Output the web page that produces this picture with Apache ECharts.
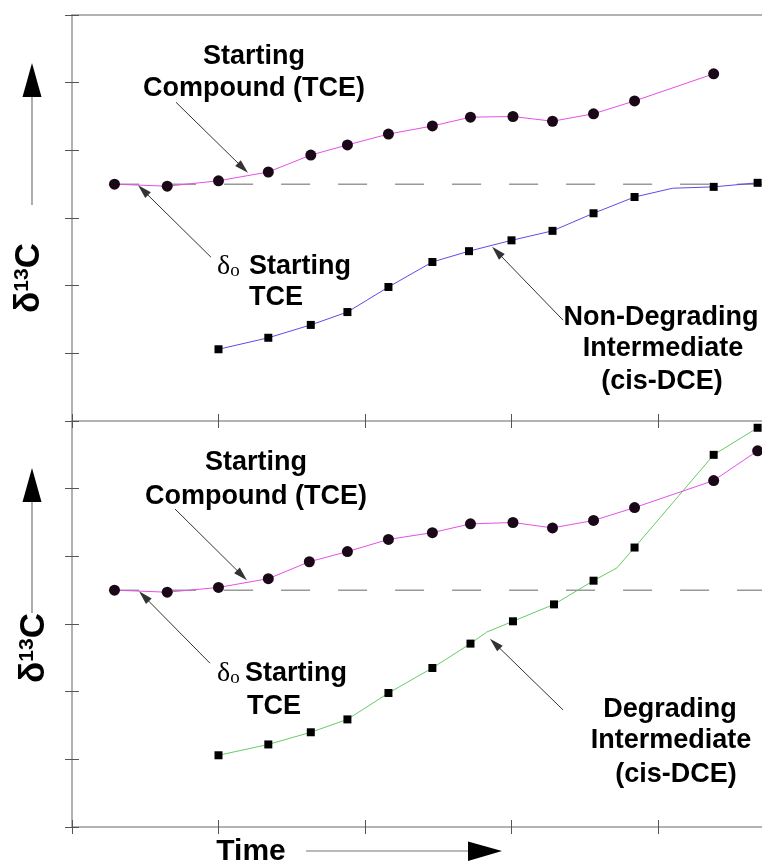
<!DOCTYPE html>
<html><head><meta charset="utf-8">
<script src="https://cdn.jsdelivr.net/npm/echarts@6/dist/echarts.min.js"></script>
<style>html,body{margin:0;padding:0;background:#fff}#c{width:762px;height:862px}</style>
</head><body><div id="c"></div>
<script>
// ---- data (x in time units, y in δ13C units) ----
const baselineTop = 3.5;
const baselineBot = 3.5;
const dashX = [0.26, 4.71];
const xTicks = [0, 1, 2, 3, 4];

const tceTopX = [0.29, 0.65, 1.00, 1.34, 1.63, 1.88, 2.16, 2.46, 2.72, 3.01, 3.28, 3.56, 3.84, 4.38];
const tceTopY = [3.50, 3.47, 3.55, 3.68, 3.93, 4.08, 4.24, 4.36, 4.49, 4.50, 4.43, 4.54, 4.73, 5.13];

const ndX = [1.00, 1.34, 1.63, 1.88, 2.16, 2.46, 2.71, 3.00, 3.28, 3.56, 3.84, 4.10, 4.38, 4.68];
const ndY = [1.06, 1.23, 1.42, 1.61, 1.98, 2.35, 2.51, 2.67, 2.81, 3.07, 3.31, 3.44, 3.46, 3.52];
const ndMark = [1, 1, 1, 1, 1, 1, 1, 1, 1, 1, 1, 0, 1, 1];

const tceBotX = [0.29, 0.65, 1.00, 1.34, 1.62, 1.88, 2.16, 2.46, 2.72, 3.01, 3.28, 3.56, 3.84, 4.38, 4.68];
const tceBotY = [3.50, 3.47, 3.54, 3.67, 3.92, 4.07, 4.25, 4.35, 4.48, 4.50, 4.42, 4.53, 4.72, 5.12, 5.56];

const dgX = [1.00, 1.34, 1.63, 1.88, 2.16, 2.46, 2.72, 2.83, 3.01, 3.29, 3.56, 3.72, 3.84, 4.38, 4.68];
const dgY = [1.06, 1.22, 1.40, 1.59, 1.98, 2.35, 2.71, 2.88, 3.04, 3.29, 3.64, 3.83, 4.13, 5.50, 5.90];
const dgMark = [1, 1, 1, 1, 1, 1, 1, 0, 1, 1, 1, 0, 1, 1, 1];

// annotation arrows [fromX, fromY, toX, toY] in data units
const arrowsTop = [[0.71, 4.71, 1.167, 3.74], [0.949, 2.42, 0.485, 3.41], [3.352, 1.49, 2.901, 2.50]];
const arrowsBot = [[0.703, 4.70, 1.160, 3.72], [0.942, 2.42, 0.491, 3.41], [3.352, 1.73, 2.887, 2.71]];

// ---- chart ----
const FONT = '"Liberation Sans", Arial, sans-serif';
const AXCOL = '#999';
const TICKCOL = '#555';
const XMAX = 690 / 146.5;
const HEAD = 'path://M4,0 L8,14 L0,14 Z';

function zip(xs, ys, marks) {
  return xs.map((x, i) => (marks && !marks[i]) ? { value: [x, ys[i]], symbol: 'none' } : [x, ys[i]]);
}
function xAx(grid, pos, showLine, tick, inside) {
  return {
    type: 'value', gridIndex: grid, position: pos, min: 0, max: XMAX, interval: 1,
    axisLine: { show: showLine, onZero: false, lineStyle: { color: AXCOL, width: 1.5 } },
    axisTick: { show: tick, inside: inside, length: 7, customValues: xTicks, lineStyle: { color: TICKCOL, width: 1 } },
    axisLabel: { show: false }, splitLine: { show: false }
  };
}
function yAx(grid, showLine, inside) {
  return {
    type: 'value', gridIndex: grid, position: 'left', min: 0, max: 6, interval: 1,
    axisLine: { show: showLine, onZero: false, lineStyle: { color: AXCOL, width: 1.5 } },
    axisTick: { show: true, inside: inside, length: 7, lineStyle: { color: TICKCOL, width: 1 } },
    axisLabel: { show: false }, splitLine: { show: false }
  };
}
function arrowLines(arr) {
  return {
    silent: true, symbol: ['none', HEAD], symbolSize: 14, symbolKeepAspect: true,
    label: { show: false },
    lineStyle: { color: '#333', width: 1, type: 'solid' },
    emphasis: { disabled: true },
    data: arr.map(a => [{ coord: [a[0], a[1]] }, { coord: [a[2], a[3]] }])
  };
}
function dash(xi, yi, base) {
  return {
    type: 'line', xAxisIndex: xi, yAxisIndex: yi, symbol: 'none', silent: true, z: 1,
    lineStyle: { color: '#666', width: 1, type: [29, 28] },
    data: dashX.map(x => [x, base])
  };
}
function txt(s, x, y, align, size) {
  return { type: 'text', x: x, y: y, silent: true,
    style: { text: s, fill: '#000', font: 'bold ' + (size || 27) + 'px ' + FONT, align: align || 'center', verticalAlign: 'middle' } };
}
function deltaO(x, y) {
  return { type: 'text', x: x, y: y, silent: true,
    style: { text: '{d|δ}{o|o}', align: 'left', verticalAlign: 'middle', fill: '#000',
      rich: { d: { fontFamily: '"Liberation Serif", serif', fontSize: 28, fill: '#000' },
              o: { fontFamily: '"Liberation Serif", serif', fontSize: 19, fill: '#000', verticalAlign: 'bottom' } } } };
}
function ylab(x, y) {
  return { type: 'text', x: x, y: y, rotation: Math.PI / 2, silent: true,
    style: { text: '{a|δ}{b|13}{a|C}', align: 'center', verticalAlign: 'middle', fill: '#000',
      rich: { a: { fontFamily: FONT, fontWeight: 'bold', fontSize: 35, fill: '#000' },
              b: { fontFamily: FONT, fontWeight: 'bold', fontSize: 21, fill: '#000', verticalAlign: 'top' } } } };
}
function vArrow(x, y0, y1, yHead) {
  return [
    { type: 'line', silent: true, shape: { x1: x, y1: y0, x2: x, y2: y1 }, style: { stroke: '#777', lineWidth: 1.2 } },
    { type: 'polygon', silent: true, shape: { points: [[x - 9.5, y1], [x + 9.5, y1], [x, yHead]] }, style: { fill: '#000' } }
  ];
}

const option = {
  animation: false,
  backgroundColor: '#fff',
  grid: [
    { left: 72, top: 15, width: 690, height: 406 },
    { left: 72, top: 421, width: 690, height: 406 }
  ],
  xAxis: [
    xAx(0, 'bottom', true, true, false),
    xAx(0, 'bottom', false, true, true),
    xAx(0, 'top', true, false, false),
    xAx(1, 'bottom', true, true, false),
    xAx(1, 'bottom', false, true, true)
  ],
  yAxis: [
    yAx(0, true, false),
    yAx(0, false, true),
    yAx(1, true, false),
    yAx(1, false, true)
  ],
  series: [
    dash(0, 0, baselineTop),
    { type: 'line', xAxisIndex: 0, yAxisIndex: 0, data: zip(ndX, ndY, ndMark), symbol: 'rect', symbolSize: 8,
      lineStyle: { color: '#5a4ee6', width: 1 }, itemStyle: { color: '#000' }, z: 3 },
    { type: 'line', xAxisIndex: 0, yAxisIndex: 0, data: zip(tceTopX, tceTopY), symbol: 'circle', symbolSize: 11,
      lineStyle: { color: '#e650e6', width: 1 }, itemStyle: { color: '#1a0818' }, z: 4,
      markLine: arrowLines(arrowsTop) },
    dash(3, 2, baselineBot),
    { type: 'line', xAxisIndex: 3, yAxisIndex: 2, data: zip(dgX, dgY, dgMark), symbol: 'rect', symbolSize: 8,
      lineStyle: { color: '#66cc66', width: 1 }, itemStyle: { color: '#000' }, z: 3 },
    { type: 'line', xAxisIndex: 3, yAxisIndex: 2, data: zip(tceBotX, tceBotY), symbol: 'circle', symbolSize: 11,
      lineStyle: { color: '#e650e6', width: 1 }, itemStyle: { color: '#1a0818' }, z: 4,
      markLine: arrowLines(arrowsBot) }
  ],
  graphic: [
    txt('Starting', 254, 57), txt('Compound (TCE)', 254, 89),
    deltaO(217, 267), txt('Starting', 249, 267, 'left'), txt('TCE', 249, 298, 'left'),
    txt('Non-Degrading', 661, 318), txt('Intermediate', 663, 349), txt('(cis-DCE)', 662, 382),
    txt('Starting', 256, 463), txt('Compound (TCE)', 256, 497),
    deltaO(217, 674), txt('Starting', 245, 674, 'left'), txt('TCE', 247, 707, 'left'),
    txt('Degrading', 670, 710), txt('Intermediate', 671, 741), txt('(cis-DCE)', 676, 775),
    ylab(29, 278), ylab(34, 648),
    ...vArrow(32, 205, 97, 63),
    ...vArrow(32, 613, 502, 468),
    txt('Time', 251, 852, 'center', 30),
    { type: 'line', silent: true, shape: { x1: 306, y1: 851, x2: 470, y2: 851 }, style: { stroke: '#777', lineWidth: 1.2 } },
    { type: 'polygon', silent: true, shape: { points: [[468, 841.5], [468, 861], [502, 851]] }, style: { fill: '#000' } }
  ]
};
const chart = echarts.init(document.getElementById('c'), null, { renderer: 'canvas' });
chart.setOption(option);
</script>
</body></html>
